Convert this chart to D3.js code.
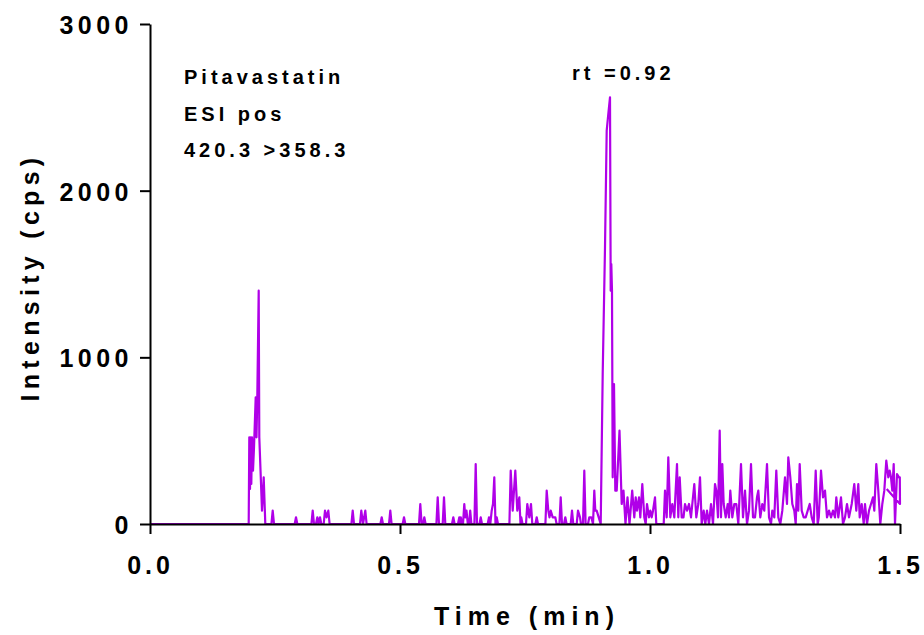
<!DOCTYPE html>
<html>
<head>
<meta charset="utf-8">
<script src="https://cdn.jsdelivr.net/npm/d3@7"></script>
<style>
  html, body { margin: 0; padding: 0; background: #fff; }
  svg text { font-family: "Liberation Sans", Arial, sans-serif; font-weight: bold; fill: #000; }
</style>
</head>
<body>
<svg id="chart" width="924" height="635"></svg>
<script>
// ---- data ----
const timeMin = [
  0.0000, 0.1974, 0.1986, 0.2000, 0.2014, 0.2026, 0.2040, 0.2060, 0.2080, 0.2114, 0.2130, 0.2146, 0.2174, 0.2186, 0.2240, 0.2274, 0.2306,
  0.2428, 0.2454, 0.2480, 0.2894, 0.2920, 0.2946, 0.3228, 0.3254, 0.3280,
  0.3320, 0.3346, 0.3372, 0.3400, 0.3426, 0.3474, 0.3500, 0.3532, 0.3566, 0.3592,
  0.4028, 0.4054, 0.4080, 0.4200, 0.4226, 0.4260, 0.4306, 0.4332,
  0.4608, 0.4634, 0.4660, 0.4780, 0.4806, 0.4832, 0.5054, 0.5080, 0.5106,
  0.5380, 0.5406, 0.5432, 0.5460, 0.5486, 0.5512, 0.5728, 0.5754, 0.5780,
  0.5854, 0.5880, 0.5906, 0.6040, 0.6066, 0.6092, 0.6160, 0.6186, 0.6200, 0.6216, 0.6240,
  0.6260, 0.6286, 0.6306, 0.6330, 0.6356, 0.6380, 0.6404, 0.6428,
  0.6488, 0.6514, 0.6540, 0.6590, 0.6614, 0.6640,
  0.6754, 0.6780, 0.6806, 0.6834, 0.6860, 0.6886, 0.6910, 0.6934, 0.6960,
  0.7188, 0.7214, 0.7254, 0.7306, 0.7346, 0.7386, 0.7410, 0.7426, 0.7450,
  0.7520, 0.7546, 0.7586, 0.7620, 0.7646, 0.7708, 0.7734, 0.7760,
  0.7908, 0.7934, 0.7966, 0.7990, 0.8014, 0.8054, 0.8106, 0.8132,
  0.8188, 0.8214, 0.8240, 0.8280, 0.8306, 0.8332, 0.8414, 0.8440, 0.8466,
  0.8534, 0.8560, 0.8600, 0.8620, 0.8660, 0.8686, 0.8712,
  0.8760, 0.8786, 0.8826, 0.8860, 0.8886, 0.8906, 0.8934, 0.8974, 0.9014,
  0.9054, 0.9100, 0.9134, 0.9166, 0.9200, 0.9214, 0.9226, 0.9240, 0.9254, 0.9280, 0.9306, 0.9334,
  0.9390, 0.9434, 0.9470, 0.9510, 0.9550, 0.9590, 0.9644, 0.9686, 0.9714, 0.9740, 0.9780, 0.9806,
  0.9846, 0.9886, 0.9914, 0.9940, 0.9980, 1.0006, 1.0034, 1.0060, 1.0100, 1.0126, 1.0274,
  1.0300, 1.0334, 1.0366, 1.0406, 1.0446, 1.0486, 1.0540, 1.0566, 1.0594, 1.0634, 1.0670,
  1.0700, 1.0740, 1.0780, 1.0820, 1.0846, 1.0886, 1.0926, 1.0966, 1.1000, 1.1034, 1.1074,
  1.1106, 1.1140, 1.1180, 1.1220, 1.1260, 1.1300, 1.1326, 1.1360, 1.1394, 1.1420, 1.1446,
  1.1474, 1.1514, 1.1554, 1.1580, 1.1606, 1.1646, 1.1686, 1.1726, 1.1766, 1.1820, 1.1860,
  1.1900, 1.1940, 1.1980, 1.2020, 1.2060, 1.2100, 1.2140, 1.2166, 1.2206, 1.2246, 1.2286,
  1.2340, 1.2380, 1.2420, 1.2446, 1.2486, 1.2526, 1.2566, 1.2606, 1.2646, 1.2700, 1.2740,
  1.2766, 1.2806, 1.2846, 1.2886, 1.2914, 1.2940, 1.2966, 1.2994, 1.3034, 1.3074, 1.3114,
  1.3154, 1.3194, 1.3234, 1.3274, 1.3314, 1.3354, 1.3376, 1.3420, 1.3460, 1.3500, 1.3540,
  1.3580, 1.3620, 1.3660, 1.3700, 1.3726, 1.3766, 1.3820, 1.3860, 1.3900, 1.3940, 1.3980,
  1.4034, 1.4086, 1.4126, 1.4166, 1.4194, 1.4234, 1.4274, 1.4300, 1.4340, 1.4380, 1.4420,
  1.4460, 1.4486, 1.4526, 1.4566, 1.4606, 1.4646, 1.4686, 1.4726, 1.4766, 1.4794, 1.4820,
  1.4846, 1.4874, 1.4900, 1.4940, 1.4980, 1.4996, 1.5000, 1.4734
];
const intensityCps = [
  0, 0, 520, 210, 520, 240, 520, 320, 460, 760, 520, 760, 1400, 520, 80, 280, 0,
  0, 80, 0, 0, 40, 0, 0, 80, 0,
  0, 40, 0, 40, 0, 0, 80, 40, 80, 0,
  0, 80, 0, 0, 80, 0, 80, 0,
  0, 40, 0, 0, 80, 0, 0, 40, 0,
  0, 120, 0, 0, 40, 0, 0, 160, 0,
  0, 160, 0, 0, 40, 0, 0, 40, 0, 40, 0,
  0, 120, 40, 80, 0, 0, 80, 0,
  0, 360, 0, 0, 40, 0,
  0, 40, 0, 80, 120, 280, 0, 40, 0,
  0, 320, 80, 320, 80, 160, 0, 40, 0,
  0, 120, 40, 120, 0, 0, 40, 0,
  0, 200, 80, 40, 80, 40, 40, 0,
  0, 160, 0, 0, 40, 0, 0, 80, 0,
  0, 80, 40, 0, 0, 320, 0,
  0, 40, 40, 0, 200, 80, 80, 40, 0,
  900, 1660, 2360, 2460, 2560, 1400, 1560, 1400, 280, 840, 200, 200,
  560, 120, 200, 0, 160, 0, 200, 40, 160, 80, 160, 40,
  240, 40, 0, 120, 40, 80, 40, 80, 160, 0, 0,
  200, 40, 400, 40, 120, 40, 360, 40, 280, 40, 40,
  120, 80, 120, 40, 120, 240, 40, 120, 280, 0, 80,
  0, 80, 0, 120, 0, 240, 200, 40, 560, 40, 360,
  120, 40, 120, 40, 200, 40, 120, 120, 0, 360, 40,
  200, 0, 80, 360, 40, 40, 160, 200, 40, 120, 80,
  360, 40, 0, 80, 40, 320, 40, 0, 80, 280, 120,
  400, 280, 120, 80, 0, 240, 80, 360, 80, 40, 40,
  80, 120, 40, 0, 320, 0, 40, 320, 160, 200, 40,
  80, 40, 80, 40, 160, 40, 160, 0, 40, 120, 40,
  120, 240, 80, 240, 40, 120, 0, 120, 0, 80, 120,
  160, 80, 360, 200, 0, 120, 200, 380, 280, 320, 280,
  200, 360, 0, 300, 280, 280, 120, 210
];
const yTicks = [0, 1000, 2000, 3000];
const xTicks = [0.0, 0.5, 1.0, 1.5];
const annotationLines = ["Pitavastatin", "ESI pos", "420.3 >358.3"];
const peakLabel = "rt =0.92";
const xTitle = "Time (min)";
const yTitle = "Intensity (cps)";

// ---- drawing ----
const svg = d3.select("#chart");
const x = d3.scaleLinear().domain([0, 1.5]).range([150, 900]);
const y = d3.scaleLinear().domain([0, 3000]).range([524, 24]);
const purple = "#b000e8";

const pts = timeMin.map((t, i) => [t, intensityCps[i]]);
svg.append("path")
  .datum(pts)
  .attr("fill", "none")
  .attr("stroke", purple)
  .attr("stroke-width", 2.2)
  .attr("stroke-linejoin", "round")
  .attr("d", d3.line().x(d => x(d[0])).y(d => y(d[1])));

// axes
const yAxis = svg.append("g").attr("transform", "translate(150,0)")
  .call(d3.axisLeft(y).tickValues(yTicks).tickSize(10).tickSizeOuter(0).tickPadding(7).tickFormat(d3.format("d")));
const xAxis = svg.append("g").attr("transform", "translate(0,524)")
  .call(d3.axisBottom(x).tickValues(xTicks).tickSize(10).tickSizeOuter(0).tickPadding(22).tickFormat(d3.format(".1f")));
[yAxis, xAxis].forEach(g => {
  g.select(".domain").attr("stroke", "#000").attr("stroke-width", 2);
  g.selectAll(".tick line").attr("stroke", "#000").attr("stroke-width", 2);
  g.selectAll(".tick text").attr("font-size", 25).attr("font-family", "'Liberation Sans', Arial, sans-serif")
    .attr("font-weight", "bold").attr("fill", "#000").style("letter-spacing", "4.5px");
});
yAxis.selectAll(".tick text").attr("dy", "0.38em");
xAxis.selectAll(".tick text").style("letter-spacing", "4px");

// titles
svg.append("text").attr("x", 527).attr("y", 625).attr("text-anchor", "middle")
  .attr("font-size", 25).style("letter-spacing", "6px").text(xTitle);
svg.append("text").attr("transform", "translate(39,277) rotate(-90)").attr("text-anchor", "middle")
  .attr("font-size", 25).style("letter-spacing", "5.3px").text(yTitle);

// annotations
annotationLines.forEach((s, i) => {
  svg.append("text").attr("x", 184).attr("y", 84 + i * 36.5)
    .attr("font-size", 20).style("letter-spacing", "4px").text(s);
});
svg.append("text").attr("x", 572).attr("y", 80)
  .attr("font-size", 20).style("letter-spacing", "4px").text(peakLabel);
</script>
</body>
</html>
